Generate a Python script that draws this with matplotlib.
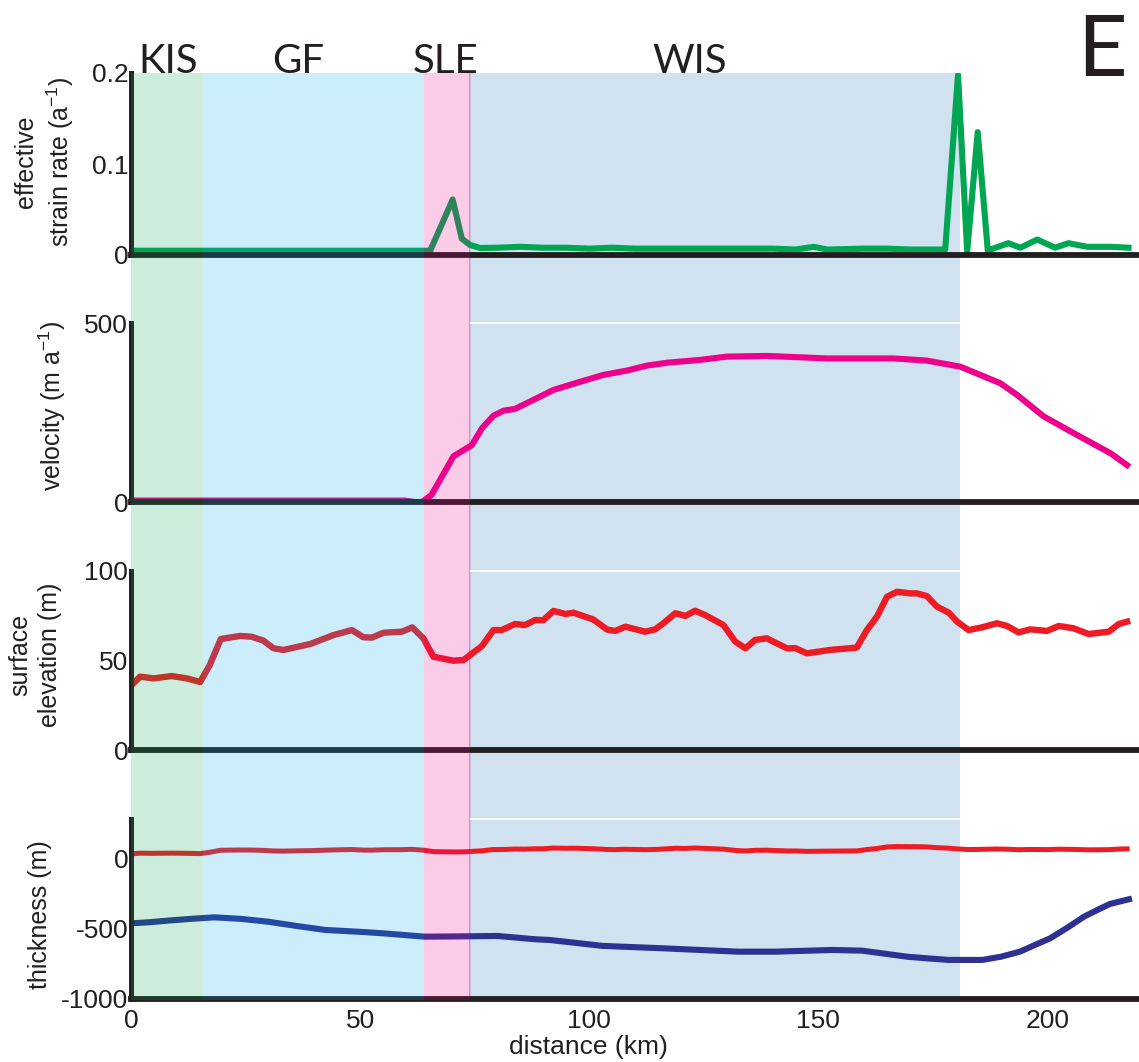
import matplotlib
matplotlib.use("Agg")
import matplotlib.pyplot as plt

# ice-stream regions along the profile (km)
regions = ["KIS", "GF", "SLE", "WIS"]
region_edges = [(0, 15.7), (15.7, 64), (64, 74), (74, 181)]
region_label_x = [8.1, 36.5, 68.6, 122]

# effective strain rate (a^-1)
strain_km = [0, 10, 20, 30, 40, 50, 60, 65.3, 69, 70.2, 72.2, 74, 76.2, 80, 85,
             90, 95, 100, 105, 110, 115, 120, 125, 130, 135, 140, 145, 149, 152,
             160, 165, 170, 177.7, 180.5, 182.5, 184.8, 187, 191.5, 194.1, 197.8,
             201.7, 204.6, 208.7, 213.8, 217.7]
strain = [0.0047, 0.0047, 0.0047, 0.0047, 0.0047, 0.0047, 0.0047, 0.0047, 0.047,
          0.061, 0.018, 0.011, 0.0077, 0.008, 0.009, 0.008, 0.008, 0.007, 0.008,
          0.007, 0.007, 0.007, 0.007, 0.007, 0.007, 0.007, 0.006, 0.009, 0.006,
          0.007, 0.007, 0.006, 0.006, 0.198, 0.004, 0.135, 0.005, 0.013, 0.008,
          0.017, 0.008, 0.013, 0.009, 0.009, 0.008]

# velocity (m a^-1)
vel_km = [0, 59.8, 62, 63.5, 65.6, 70.4, 74.4, 76.6, 79.1, 81.3, 83.8, 87.8, 92.2,
          97.3, 103.1, 108.2, 112.6, 117, 124.2, 130, 138.8, 151.9, 166.4, 173.7,
          181, 189.7, 193.4, 199.2, 206.5, 213.8, 217.4]
vel = [4, 4, 0, 0, 20, 128, 159, 206, 241, 255, 260, 285, 313, 333, 355, 367, 381,
       389, 397, 406, 408, 401, 401, 395, 378, 332, 299, 239, 187, 136, 103]

# surface elevation (m)
elev_km = [0, 0.5, 2, 4.9, 8.9, 12.2, 15.1, 17.2, 19.6, 23.8, 26.3, 28.9, 31.1,
           33.3, 39.1, 44.2, 48.2, 50.7, 52.6, 55.1, 59.1, 61.4, 63.8, 66, 70.4,
           72.6, 76.6, 79.1, 80.9, 83.8, 86, 88.2, 90, 92.2, 94.8, 96.6, 100.9,
           103.9, 105.7, 107.9, 112.2, 114.4, 116.2, 118.8, 121, 123.1, 125.3,
           129.3, 131.9, 134.1, 136.2, 138.8, 140.2, 143.2, 145, 147.5, 152.6,
           154.8, 158.4, 160.6, 162.8, 165, 167.2, 170.1, 171.5, 173.7, 175.9,
           178.5, 180.3, 182.8, 185.7, 189, 191.2, 193.7, 196.3, 199.9, 202.5,
           205.7, 209, 213.4, 215.6, 217.4]
elev = [36, 37.2, 41, 40, 41.3, 40, 38, 47.5, 62, 63.7, 63.3, 61.1, 56.8, 55.9,
        59.2, 64.2, 67, 63, 62.8, 65.5, 66.1, 68.5, 62.4, 52.1, 49.9, 50.3, 58.1,
        67, 67, 70.4, 69.8, 72.6, 72.5, 77.7, 76, 76.7, 72.9, 67.3, 66.5, 68.9,
        66.1, 67.4, 70.8, 76.4, 74.9, 77.8, 75.4, 69.8, 60.5, 56.8, 61.5, 62.4,
        60.5, 56.8, 56.9, 54, 55.9, 56.4, 57.2, 67, 74.5, 85.6, 88.4, 87.5, 87.5,
        86, 80.1, 76.7, 71.7, 67, 68.5, 70.8, 69.3, 65.7, 67.4, 66.5, 69.3, 68,
        64.8, 66.1, 70.4, 71.7]

# ice base (m)
base_km = [0, 4, 8.2, 13, 18.2, 24, 29.9, 36, 42.4, 50.8, 55, 64.1, 72, 80, 88.4,
           91.5, 103, 116.1, 124.2, 132.5, 140.7, 153, 159.6, 169.4, 173.5, 178.4,
           185.8, 189.9, 194, 197.3, 200.6, 204.7, 208, 211.2, 213.7, 217.8]
base = [-460, -452, -440, -428, -417, -428, -448, -478, -507, -522, -531, -555,
        -553, -550, -574, -579, -621, -638, -650, -662, -662, -650, -655, -698,
        -709, -721, -721, -698, -662, -614, -567, -484, -412, -360, -321, -288]

GREEN = "#00A651"
MAGENTA = "#EC008C"
RED = "#ED1C24"
BLUE = "#2E3192"
BLACK = "#231F20"
WIS_SHADE = "#D0E2F0"
OVERLAY = {"KIS": "#00A651", "GF": "#00AEEF", "SLE": "#EC008C"}

plt.rcParams["font.family"] = ["Liberation Sans", "DejaVu Sans"]
plt.rcParams["mathtext.default"] = "regular"
plt.rcParams["axes.unicode_minus"] = False

W, H = 1139, 1062
fig = plt.figure(figsize=(W / 100, H / 100), dpi=100)


def fy(py):
    return 1 - py / H


left, width = 131 / W, 1008 / W
XMAX = 220

# background (WIS shading sits under the lines)
bg = fig.add_axes([left, fy(1000), width, (1000 - 73) / H], zorder=0)
bg.axis("off")
bg.set_xlim(0, XMAX)
bg.set_ylim(0, 1)
bg.axvspan(*region_edges[3], color=WIS_SHADE, lw=0)
bg.axvline(region_edges[3][0], color="#CDBBD9", lw=1.5)

for name, xl in zip(regions, region_label_x):
    bg.text(xl, 1.0, name, transform=bg.get_xaxis_transform(), ha="center",
            va="baseline", fontsize=29, family=["Lato", "DejaVu Sans"],
            color=BLACK)

fig.text(1102 / W, fy(76), "E", ha="center", va="baseline", fontsize=62,
         family=["Lato", "DejaVu Sans"], color=BLACK)

# panel rectangles in pixels: (top, bottom)
boxes = [(73, 255), (323, 502), (571, 750), (819, 999)]
axes = []
for top, bot in boxes:
    ax = fig.add_axes([left, fy(bot), width, (bot - top) / H], zorder=1)
    ax.set_facecolor("none")
    ax.set_xlim(0, XMAX)
    for s in ["top", "right"]:
        ax.spines[s].set_visible(False)
    ax.spines["left"].set_linewidth(3.6)
    ax.spines["bottom"].set_linewidth(4.2)
    ax.spines["left"].set_color(BLACK)
    ax.spines["bottom"].set_color(BLACK)
    ax.tick_params(which="major", length=0, labelsize=19, pad=2,
                   labelcolor=BLACK)
    ax.tick_params(which="minor", direction="in", length=8, width=1.2,
                   color="#555555")
    axes.append(ax)

ax1, ax2, ax3, ax4 = axes

ax1.plot(strain_km, strain, color=GREEN, lw=4.4)
ax1.set_ylim(0, 0.2)
ax1.set_yticks([0, 0.1, 0.2])
ax1.set_yticklabels(["0", "0.1", "0.2"])
ax1.set_yticks([0.2], minor=True)

ax2.plot(vel_km, vel, color=MAGENTA, lw=4.4)
ax2.set_ylim(0, 500)
ax2.set_yticks([0, 500])
ax2.set_yticks([500], minor=True)

ax3.plot(elev_km, elev, color=RED, lw=4.6)
ax3.set_ylim(0, 100)
ax3.set_yticks([0, 50, 100])
ax3.set_yticks([100], minor=True)

ax4.plot(elev_km, elev, color=RED, lw=3.6)
ax4.plot(base_km, base, color=BLUE, lw=4.4)
ax4.set_ylim(-1000, 285)
ax4.set_yticks([-1000, -500, 0])

# odd white seam at the top of the lower panels inside WIS
for ax in (ax2, ax3, ax4):
    ax.hlines(ax.get_ylim()[1], *region_edges[3], color="white", lw=1.3,
              clip_on=False)

for ax in (ax1, ax2, ax3):
    ax.set_xticks([])
ax4.set_xticks([0, 50, 100, 150, 200])
ax4.tick_params(axis="x", pad=7)

# translucent overlays for KIS, GF, SLE (tint the lines beneath)
ov = fig.add_axes([left, fy(1000), width, (1000 - 73) / H], zorder=5)
ov.axis("off")
ov.set_xlim(0, XMAX)
ov.set_ylim(0, 1)
for name, (x0, x1) in zip(regions[:3], region_edges[:3]):
    ov.axvspan(x0, x1, color=OVERLAY[name], alpha=0.2, lw=0)

# axis labels
lab = dict(rotation=90, ha="center", va="center", fontsize=18,
           color=BLACK, linespacing=1.3, multialignment="center")
fig.text(45 / W, fy(162), "effective\nstrain rate (a$^{-1}$)", **lab)
fig.text(52 / W, fy(406), "velocity (m a$^{-1}$)", **lab)
fig.text(35 / W, fy(655), "surface\nelevation (m)", **lab)
fig.text(40 / W, fy(915), "thickness (m)", **lab)
fig.text(588 / W, fy(1047), "distance (km)", ha="center", va="center",
         fontsize=19, color=BLACK)

fig.savefig("out.png", dpi=100)
